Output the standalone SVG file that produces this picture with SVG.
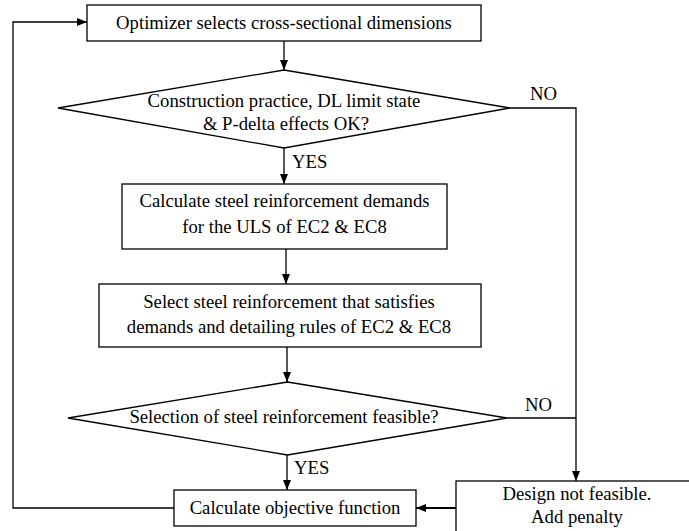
<svg xmlns="http://www.w3.org/2000/svg" width="689" height="531" viewBox="0 0 689 531">
<style>
.box{fill:#fff;stroke:#000;stroke-width:1.3}
.ln{fill:none;stroke:#000;stroke-width:1.3}
.thick{fill:none;stroke:#000;stroke-width:2}
text{font-family:"Liberation Serif","Times New Roman",serif;font-size:18.7px;fill:#000}
.c{text-anchor:middle}
</style>
<defs>
<marker id="ah" markerUnits="userSpaceOnUse" markerWidth="11" markerHeight="9" refX="10" refY="4" orient="auto">
<path d="M0,0 L10,4 L0,8 z" fill="#000"/>
</marker>
</defs>
<rect width="689" height="531" fill="#fff"/>
<g id="connectors">
<line class="ln" x1="284" y1="41" x2="284" y2="70" marker-end="url(#ah)"/>
<line class="ln" x1="284" y1="148" x2="284" y2="184" marker-end="url(#ah)"/>
<line class="ln" x1="286" y1="249" x2="286" y2="284" marker-end="url(#ah)"/>
<line class="ln" x1="287" y1="347" x2="287" y2="382" marker-end="url(#ah)"/>
<line class="ln" x1="287" y1="455" x2="287" y2="490" marker-end="url(#ah)"/>
<polyline class="ln" points="174,508 13,508 13,22 87,22" marker-end="url(#ah)"/>
<polyline class="ln" points="510,108 576,108 576,481" marker-end="url(#ah)"/>
<line class="ln" x1="507" y1="418" x2="576" y2="418"/>
<line class="thick" x1="456" y1="508" x2="416" y2="508" marker-end="url(#ah)"/>
<text x="292" y="168">YES</text>
<text x="530" y="100">NO</text>
<text x="525" y="411">NO</text>
<text x="294" y="474">YES</text>
</g>
<g id="n_optimizer">
<rect class="box" x="87" y="5" width="394" height="36"/>
<text class="c" x="284" y="29">Optimizer selects cross-sectional dimensions</text>
</g>
<g id="n_check1">
<polygon class="box" points="284,70 510,108 284,148 58,108"/>
<text class="c" x="284" y="107">Construction practice, DL limit state</text>
<text class="c" x="286" y="130">&amp; P-delta effects OK?</text>
</g>
<g id="n_demands">
<rect class="box" x="122" y="184" width="325" height="65"/>
<text class="c" x="284.5" y="207">Calculate steel reinforcement demands</text>
<text class="c" x="284.5" y="233">for the ULS of EC2 &amp; EC8</text>
</g>
<g id="n_select">
<rect class="box" x="99" y="284" width="382" height="63"/>
<text class="c" x="289" y="308">Select steel reinforcement that satisfies</text>
<text class="c" x="289" y="333">demands and detailing rules of EC2 &amp; EC8</text>
</g>
<g id="n_check2">
<polygon class="box" points="287.5,382 507,418 287.5,455 68,418"/>
<text class="c" x="284" y="423">Selection of steel reinforcement feasible?</text>
</g>
<g id="n_objective">
<rect class="box" x="174" y="490" width="242" height="36"/>
<text class="c" x="295" y="514">Calculate objective function</text>
</g>
<g id="n_penalty">
<rect class="box" x="456" y="481" width="260" height="70"/>
<text class="c" x="577" y="500">Design not feasible.</text>
<text class="c" x="577" y="523">Add penalty</text>
</g>
</svg>
